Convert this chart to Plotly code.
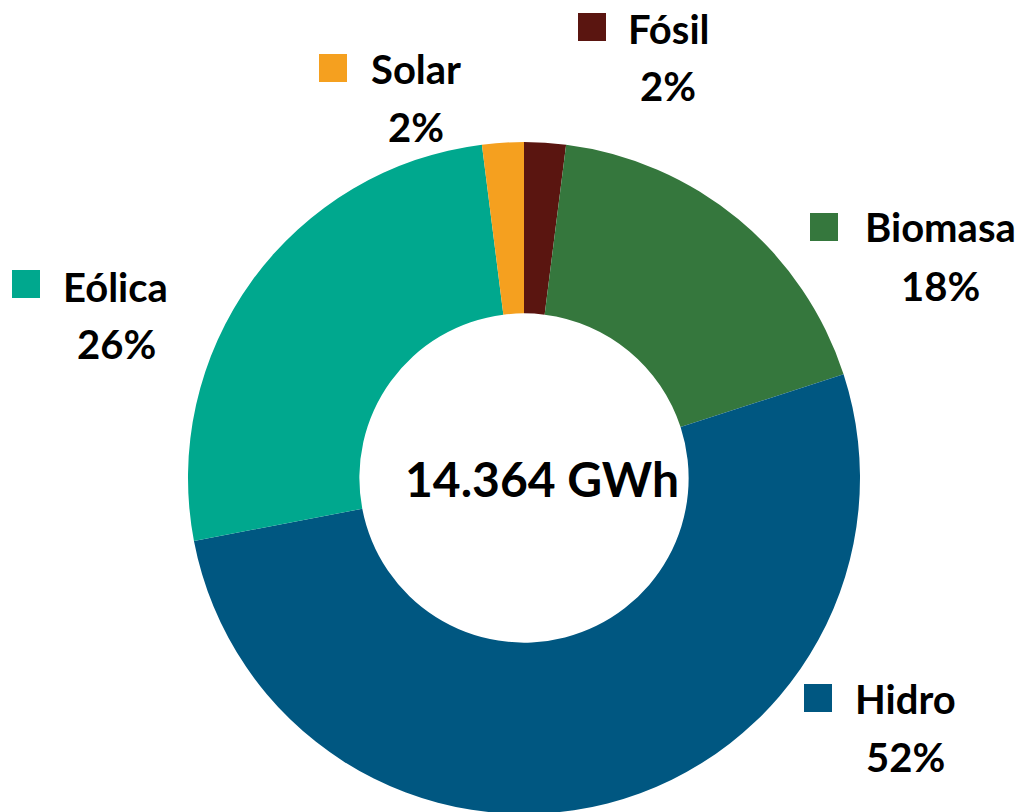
import plotly.graph_objects as go

# Data
categories = ["Fósil", "Biomasa", "Hidro", "Eólica", "Solar"]
shares = [2, 18, 52, 26, 2]
pct_labels = ["2%", "18%", "52%", "26%", "2%"]
colors = ["#5A1510", "#35773D", "#005781", "#00A88E", "#F5A01F"]
total_label = "14.364 GWh"

W, H = 1032, 812
OFF = 8  # page body margin offset

# Label layout (screen pixel positions: name centre, pct centre, square centre)
label_pos = {
    "Fósil":   dict(name=(669, 29),  pct=(668, 86),  sq=(592, 27)),
    "Biomasa": dict(name=(940, 227), pct=(940, 286), sq=(824, 227)),
    "Hidro":   dict(name=(905, 699), pct=(905, 757), sq=(818, 698)),
    "Eólica":  dict(name=(115, 287), pct=(116, 344), sq=(26, 284)),
    "Solar":   dict(name=(416, 69),  pct=(416, 127), sq=(333, 68)),
}
SQ = 28
FONT = "Lato, 'Open Sans', sans-serif"


def px(x, y):
    return (x - OFF) / W, 1 - (y - OFF) / H


# pie centre (524, 478) radius 336 in screen pixels
pcx, pcy, R = 524 - OFF, 478 - OFF, 336
fig = go.Figure(
    go.Pie(
        labels=categories,
        values=shares,
        marker=dict(colors=colors, line=dict(width=0)),
        hole=0.49,
        sort=False,
        direction="clockwise",
        rotation=0,
        textinfo="none",
        hoverinfo="label+percent",
        showlegend=False,
        domain=dict(x=[(pcx - R) / W, (pcx + R) / W],
                    y=[(H - pcy - R) / H, (H - pcy + R) / H]),
    )
)

annotations = []
shapes = []
for cat, pct, col in zip(categories, pct_labels, colors):
    p = label_pos[cat]
    nx, ny = px(*p["name"])
    annotations.append(dict(x=nx, y=ny, xref="paper", yref="paper", text=cat,
                            showarrow=False, xanchor="center", yanchor="middle",
                            font=dict(family=FONT, size=40, color="#000000", weight=700)))
    qx, qy = px(*p["pct"])
    annotations.append(dict(x=qx, y=qy, xref="paper", yref="paper", text=pct,
                            showarrow=False, xanchor="center", yanchor="middle",
                            font=dict(family=FONT, size=40, color="#000000", weight=700)))
    sx, sy = p["sq"]
    x0, y1 = px(sx - SQ / 2, sy - SQ / 2)
    x1, y0 = px(sx + SQ / 2, sy + SQ / 2)
    shapes.append(dict(type="rect", xref="paper", yref="paper", x0=x0, x1=x1, y0=y0, y1=y1,
                       fillcolor=col, line=dict(width=0)))

cx, cy = px(542, 478)
annotations.append(dict(x=cx, y=cy, xref="paper", yref="paper", text=total_label,
                        showarrow=False, xanchor="center", yanchor="middle",
                        font=dict(family=FONT, size=48, color="#000000", weight=700)))

fig.update_layout(
    width=W, height=H,
    margin=dict(l=0, r=0, t=0, b=0),
    paper_bgcolor="white", plot_bgcolor="white",
    annotations=annotations,
    shapes=shapes,
)

fig.write_html("out.html")
